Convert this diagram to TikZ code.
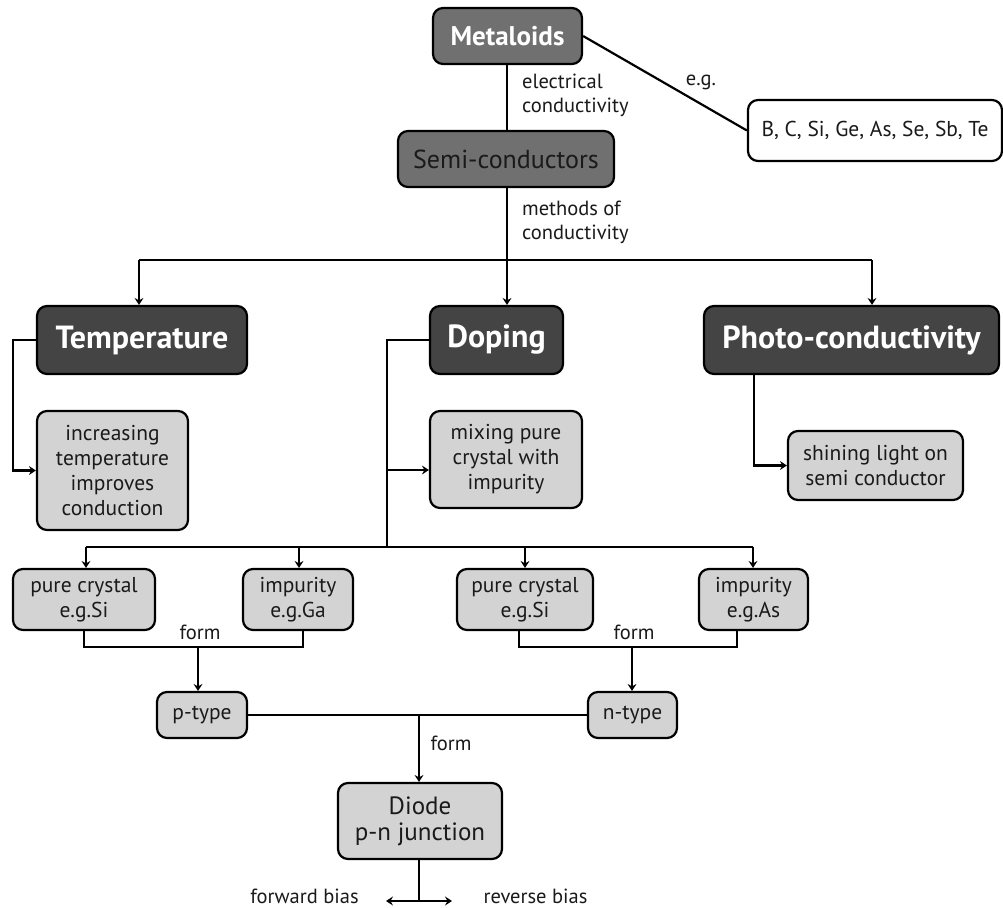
\documentclass[tikz,border=0pt]{standalone}
\usepackage{fontspec}
\setmainfont{PT Sans}
\usetikzlibrary{arrows.meta}
\definecolor{midgray}{HTML}{707070}
\definecolor{darkbox}{HTML}{444444}
\definecolor{lightbox}{HTML}{D3D3D3}
\definecolor{ink}{HTML}{1A1A1A}
\begin{document}
\begin{tikzpicture}[x=1pt,y=-1pt,line width=2.2pt,
  box/.style={draw=black,rounded corners=10pt,align=center,inner sep=0pt,text=ink},
  topbox/.style={box,fill=midgray},
  mainbox/.style={box,fill=darkbox,text=white,minimum height=68pt,font=\bfseries\fontsize{32}{34}\selectfont},
  subbox/.style={box,fill=lightbox,font=\fontsize{21.5}{25}\selectfont},
  lbl/.style={inner sep=0pt,text=ink,font=\fontsize{20.5}{24}\selectfont},
  arr/.style={-{Stealth[length=7pt,width=9pt,inset=2.5pt]}},
  darr/.style={{Stealth[length=7pt,width=9pt,inset=2.5pt]}-{Stealth[length=7pt,width=9pt,inset=2.5pt]}}]
\useasboundingbox (0,0) rectangle (1003,907);

% top level
\node[topbox,text=white,minimum width=149pt,minimum height=56pt,font=\bfseries\fontsize{27}{29}\selectfont] (meta) at (507.5,36) {Metaloids};
\node[topbox,minimum width=216pt,minimum height=56pt,font=\fontsize{26}{28}\selectfont] (semi) at (506,159) {Semi-conductors};
\begin{scope}
\clip (0,0) rectangle (1003,907);
\node[box,fill=white,minimum width=254pt,minimum height=61pt,font=\fontsize{21.5}{25}\selectfont] (eg) at (875,130.5) {B, C, Si, Ge, As, Se, Sb, Te};
\end{scope}

% methods
\node[mainbox,minimum width=210pt] (temp) at (142,340) {Temperature};
\node[mainbox,minimum width=133pt] (dop) at (496.5,340) {Doping};
\node[mainbox,minimum width=295pt] (photo) at (851.5,340) {Photo-conductivity};

\node[subbox,minimum width=151pt,minimum height=119pt] (inc) at (112.5,470.5) {increasing\\temperature\\improves\\conduction};
\node[subbox,minimum width=152pt,minimum height=97pt] (mix) at (506,459.5) {mixing pure\\crystal with\\impurity};
\node[subbox,minimum width=175pt,minimum height=69pt] (shine) at (875.5,465.5) {shining light on\\semi conductor};

% doping components
\node[subbox,minimum width=142pt,minimum height=61pt] (pc1) at (84,599.5) {pure crystal\\e.g.Si};
\node[subbox,minimum width=110pt,minimum height=61pt] (imp1) at (298,599.5) {impurity\\e.g.Ga};
\node[subbox,minimum width=136pt,minimum height=61pt] (pc2) at (525,599.5) {pure crystal\\e.g.Si};
\node[subbox,minimum width=109pt,minimum height=61pt] (imp2) at (753.5,599.5) {impurity\\e.g.As};

\node[subbox,minimum width=90pt,minimum height=46pt] (ptype) at (202,715) {p-type};
\node[subbox,minimum width=89pt,minimum height=46pt] (ntype) at (632.5,715) {n-type};
\node[subbox,minimum width=164pt,minimum height=76pt,font=\fontsize{25}{26}\selectfont] (diode) at (420,821) {Diode\\p-n junction};

% labels
\node[lbl,anchor=west,align=left] (l1) at (521,95) {electrical\\conductivity};
\node[lbl] (l2) at (701,82) {e.g.};
\node[lbl,anchor=west,align=left] (l3) at (521,222) {methods of\\conductivity};
\node[lbl] (f1) at (200,632) {form};
\node[lbl] (f2) at (634,632) {form};
\node[lbl] (f3) at (451,743) {form};
\node[lbl] (fb) at (304.5,896) {forward bias};
\node[lbl] (rb) at (535.5,896) {reverse bias};

% coordinates
\coordinate (b0) at (507,260);
\coordinate (bl) at (139,260);
\coordinate (br) at (872,260);
\coordinate (tl) at (13,340);
\coordinate (dl) at (387,340);
\coordinate (dj) at (387,470);
\coordinate (db) at (387,547);
\coordinate (px) at (754,0);
\coordinate (k1) at (86,547);
\coordinate (k2) at (299,547);
\coordinate (k3) at (525,547);
\coordinate (k4) at (753,547);
\coordinate (fl) at (198,647);
\coordinate (fr) at (632,647);
\coordinate (ql1) at (84,0);
\coordinate (ql2) at (303,0);
\coordinate (qr1) at (519,0);
\coordinate (qr2) at (737,0);
\coordinate (jn) at (419,716);
\coordinate (dd) at (419,901);
\coordinate (al) at (386,901);
\coordinate (ar) at (452,901);

% connectors
\draw (meta.south -| b0) -- (semi.north -| b0);
\draw (meta.east) -- (eg.west);
\draw (semi.south -| b0) -- (b0);
\draw (bl) -- (br);
\draw[arr] (bl) -- (temp.north -| bl);
\draw[arr] (b0) -- (dop.north -| b0);
\draw[arr] (br) -- (photo.north -| br);

\draw[arr] (temp.west) -- (tl) |- (inc.west);
\draw (dop.west) -- (dl) -- (db);
\draw[arr] (dj) -- (dj -| mix.west);
\draw[arr] (photo.south -| px) |- (shine.west);

\draw (k1) -- (k4);
\draw[arr] (k1) -- (pc1.north -| k1);
\draw[arr] (k2) -- (imp1.north -| k2);
\draw[arr] (k3) -- (pc2.north -| k3);
\draw[arr] (k4) -- (imp2.north -| k4);

\draw (pc1.south -| ql1) -- (fl -| ql1) -- (fl -| ql2) -- (imp1.south -| ql2);
\draw[arr] (fl) -- (ptype.north -| fl);
\draw (pc2.south -| qr1) -- (fr -| qr1) -- (fr -| qr2) -- (imp2.south -| qr2);
\draw[arr] (fr) -- (ntype.north -| fr);

\draw (ptype.east) -- (ntype.west);
\draw[arr] (jn) -- (diode.north -| jn);
\draw (diode.south -| dd) -- (dd);
\draw[darr] (al) -- (ar);
\end{tikzpicture}
\end{document}
